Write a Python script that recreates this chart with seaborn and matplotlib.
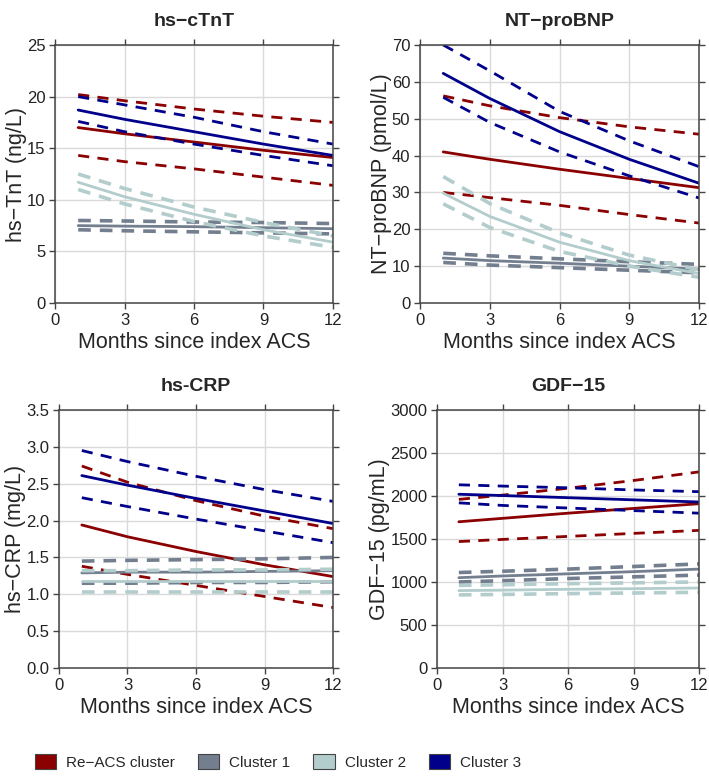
import numpy as np
import pandas as pd
import matplotlib
matplotlib.use('Agg')
import matplotlib.pyplot as plt
import seaborn as sns
from matplotlib.patches import Patch
from matplotlib import font_manager

sns.set_style('ticks')
plt.rcParams['font.family'] = ['Liberation Sans', 'DejaVu Sans']

months = [1, 3, 6, 9, 12]
clusters = ['Re\u2212ACS cluster', 'Cluster 1', 'Cluster 2', 'Cluster 3']
colors = ['#8b0000', '#737f8f', '#b3cccc', '#00008b']

# 每个指标: 均值、上限、下限 (按 clusters 顺序)
tnt_mean = [[17.0, 16.4, 15.6, 14.8, 14.1], [7.5, 7.45, 7.4, 7.3, 7.2],
            [11.7, 10.3, 8.6, 7.1, 5.9], [18.7, 17.8, 16.6, 15.4, 14.3]]
tnt_upper = [[20.2, 19.6, 18.8, 18.1, 17.5], [8.0, 7.95, 7.85, 7.8, 7.7],
             [12.5, 11.1, 9.3, 7.8, 6.5], [20.0, 19.2, 18.0, 16.6, 15.4]]
tnt_lower = [[14.3, 13.7, 13.0, 12.2, 11.4], [7.1, 7.0, 6.9, 6.8, 6.7],
             [11.0, 9.6, 7.9, 6.5, 5.4], [17.6, 16.6, 15.4, 14.3, 13.3]]

bnp_mean = [[41.0, 39.0, 36.3, 33.8, 31.3], [12.2, 11.5, 10.8, 10.0, 9.2],
            [29.8, 23.5, 16.5, 11.5, 8.0], [62.3, 55.5, 46.5, 39.0, 32.5]]
bnp_upper = [[56.2, 53.5, 50.3, 47.8, 45.8], [13.5, 12.8, 12.0, 11.2, 10.5],
             [34.3, 27.0, 19.0, 13.0, 9.0], [70.0, 63.0, 52.0, 44.0, 37.0]]
bnp_lower = [[30.0, 28.6, 26.5, 24.0, 21.7], [11.0, 10.3, 9.6, 8.9, 8.2],
             [26.9, 20.5, 14.0, 10.0, 7.0], [55.8, 49.0, 41.0, 34.5, 28.5]]

crp_mean = [[1.94, 1.78, 1.58, 1.40, 1.24], [1.29, 1.30, 1.30, 1.31, 1.32],
            [1.18, 1.18, 1.18, 1.18, 1.18], [2.61, 2.48, 2.30, 2.13, 1.96]]
crp_upper = [[2.74, 2.52, 2.27, 2.06, 1.89], [1.45, 1.46, 1.47, 1.48, 1.50],
             [1.32, 1.32, 1.33, 1.33, 1.34], [2.95, 2.80, 2.60, 2.42, 2.26]]
crp_lower = [[1.38, 1.27, 1.12, 0.97, 0.82], [1.15, 1.15, 1.16, 1.16, 1.17],
             [1.03, 1.03, 1.03, 1.03, 1.03], [2.31, 2.19, 2.02, 1.86, 1.70]]

gdf_mean = [[1700, 1740, 1800, 1855, 1910], [1050, 1070, 1095, 1120, 1150],
            [900, 905, 915, 922, 930], [2020, 2005, 1980, 1955, 1930]]
gdf_upper = [[1960, 2010, 2090, 2180, 2280], [1110, 1125, 1150, 1180, 1210],
             [960, 968, 980, 990, 1000], [2130, 2115, 2095, 2070, 2050]]
gdf_lower = [[1470, 1495, 1530, 1565, 1600], [1000, 1015, 1040, 1060, 1080],
             [850, 855, 865, 872, 880], [1920, 1890, 1860, 1830, 1800]]

panels = [
    ('hs\u2212cTnT', 'hs\u2212TnT (ng/L)', tnt_mean, tnt_upper, tnt_lower, 25, 5, '{:.0f}'),
    ('NT\u2212proBNP', 'NT\u2212proBNP (pmol/L)', bnp_mean, bnp_upper, bnp_lower, 70, 10, '{:.0f}'),
    ('hs-CRP', 'hs\u2212CRP (mg/L)', crp_mean, crp_upper, crp_lower, 3.5, 0.5, '{:.1f}'),
    ('GDF\u221215', 'GDF\u221215 (pg/mL)', gdf_mean, gdf_upper, gdf_lower, 3000, 500, '{:.0f}'),
]

# 轴的位置 (图像像素换算)
positions = [[0.0776, 0.6115, 0.392, 0.3308],
             [0.5924, 0.6115, 0.3935, 0.3308],
             [0.0832, 0.1436, 0.3865, 0.3308],
             [0.6164, 0.1436, 0.3695, 0.3308]]

fig = plt.figure(figsize=(7.09, 7.80), dpi=100)

for pos, (title, ylab, mean, upper, lower, ytop, ystep, fmt) in zip(positions, panels):
    ax = fig.add_axes(pos)
    rows = []
    for i, cl in enumerate(clusters):
        for kind, vals in (('mean', mean[i]), ('upper', upper[i]), ('lower', lower[i])):
            for m, v in zip(months, vals):
                rows.append({'month': m, 'value': v, 'cluster': cl, 'kind': kind})
    df = pd.DataFrame(rows)
    for i, cl in enumerate(clusters):
        sub = df[df['cluster'] == cl]
        light = cl in ('Cluster 1', 'Cluster 2')
        for kind in ('upper', 'lower', 'mean'):
            d = sub[sub['kind'] == kind]
            if kind == 'mean':
                sns.lineplot(data=d, x='month', y='value', color=colors[i], lw=2.0,
                             ax=ax, legend=False)
            else:
                line = sns.lineplot(data=d, x='month', y='value', color=colors[i],
                                    lw=2.6 if light else 2.0, ax=ax, legend=False).lines[-1]
                line.set_dashes((4, 3) if not light else (3.5, 2.5))
                line.set_dash_capstyle('butt')
    ax.set_xlim(0, 12)
    ax.set_ylim(0, ytop)
    ax.set_xticks([0, 3, 6, 9, 12])
    yt = np.arange(0, ytop + ystep / 2, ystep)
    ax.set_yticks(yt)
    ax.set_yticklabels([fmt.format(v) for v in yt])
    ax.grid(True, color='#dadada', lw=1)
    ax.set_axisbelow(True)
    ax.tick_params(axis='both', direction='out', length=4.5, width=1, color='#444444',
                   labelsize=12, labelcolor='#222222', top=True, right=True, pad=2.5)
    for s in ax.spines.values():
        s.set_color('#444444')
        s.set_linewidth(1.1)
    ax.set_title(title, fontsize=14, fontweight='bold', pad=14)
    ax.set_xlabel('Months since index ACS', fontsize=15.5, labelpad=3)
    ax.set_ylabel(ylab, fontsize=15.5, labelpad=0)

# 图例字体: 优先用窄体
names = {f.name for f in font_manager.fontManager.ttflist}
if 'Liberation Sans Narrow' in names:
    leg_prop = {'family': 'Liberation Sans Narrow', 'size': 12.5}
else:
    leg_prop = {'family': 'Liberation Sans', 'size': 11}

handles = [Patch(facecolor=c, edgecolor='#444444', lw=0.8) for c in colors]
fig.legend(handles, clusters, loc='center left', bbox_to_anchor=(0.049, 0.023), ncol=4,
           frameon=False, prop=leg_prop,
           handlelength=1.4, handleheight=1.05, borderpad=0, borderaxespad=0,
           columnspacing=1.5, handletextpad=0.65)

fig.savefig('out.png', dpi=100)
